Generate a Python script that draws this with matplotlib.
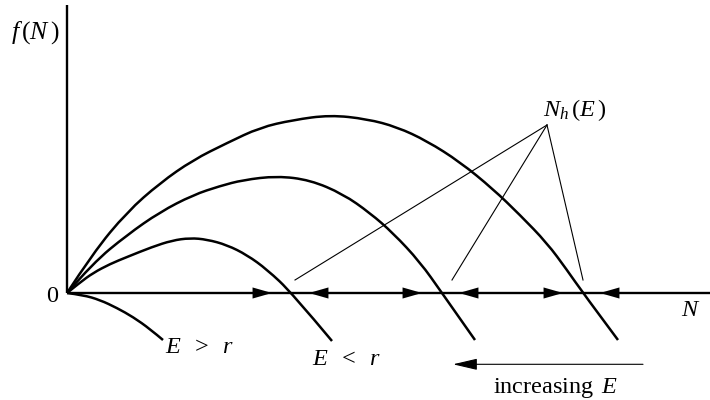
import matplotlib
matplotlib.use("Agg")
import matplotlib.pyplot as plt
from matplotlib.path import Path
from matplotlib.patches import PathPatch

# curves: N along the axis, f(N) up
n_low = [0, 0.13, 0.26, 0.43, 0.60, 0.85, 1.05, 1.23, 1.40, 1.60, 1.80, 2.00, 2.25, 2.65]
f_low = [0, 0.105, 0.20, 0.29, 0.36, 0.46, 0.525, 0.55, 0.535, 0.48, 0.38, 0.235, 0.00, -0.48]

n_mid = [0, 0.26, 0.60, 0.93, 1.26, 1.53, 1.76, 2.10, 2.43, 2.76, 3.03, 3.26, 3.53, 3.75, 4.08]
f_mid = [0, 0.30, 0.58, 0.81, 0.98, 1.07, 1.13, 1.17, 1.13, 0.99, 0.80, 0.60, 0.31, 0.00, -0.47]

n_high = [0, 0.26, 0.60, 0.93, 1.26, 1.60, 1.93, 2.26, 2.63, 3.00, 3.30, 3.60, 3.93,
          4.26, 4.53, 4.80, 5.00, 5.16, 5.51]
f_high = [0, 0.40, 0.81, 1.10, 1.33, 1.50, 1.655, 1.73, 1.78, 1.74, 1.66, 1.52, 1.31,
          1.04, 0.78, 0.50, 0.23, 0.00, -0.47]

n_over = [0, 0.16, 0.33, 0.50, 0.66, 0.83, 0.96]
f_over = [0, -0.02, -0.07, -0.15, -0.24, -0.36, -0.47]

# equilibria N_h(E) and where the pointer lines stop
roots = [2.25, 3.75, 5.16]
pointer_ends = [2.28, 3.85, 5.16]
pointer_apex = (4.80, 1.68)

plt.rcParams['font.family'] = ['Liberation Serif', 'DejaVu Serif']
plt.rcParams['mathtext.fontset'] = 'custom'
plt.rcParams['mathtext.rm'] = 'Liberation Serif'
plt.rcParams['mathtext.it'] = 'Liberation Serif:italic'


def smooth_path(xs, ys):
    # quadratic bezier through the midpoints, read points as control points
    pts = list(zip(xs, ys))
    verts = [pts[0]]
    codes = [Path.MOVETO]
    for i in range(1, len(pts) - 1):
        if i < len(pts) - 2:
            end = ((pts[i][0] + pts[i + 1][0]) / 2, (pts[i][1] + pts[i + 1][1]) / 2)
        else:
            end = pts[-1]
        verts += [pts[i], end]
        codes += [Path.CURVE3, Path.CURVE3]
    return Path(verts, codes)


fig = plt.figure(figsize=(7.1, 4.0), dpi=100)
ax = fig.add_axes([0, 0, 1, 1])
ax.set_xlim(-0.67, 6.43)
ax.set_ylim(-1.07, 2.93)
ax.axis('off')

# axes
ax.plot([0, 0], [0, 2.88], color='black', lw=1.7, solid_capstyle='butt')
ax.plot([0, 6.43], [0, 0], color='black', lw=1.7, solid_capstyle='butt')

for n, f in [(n_low, f_low), (n_mid, f_mid), (n_high, f_high), (n_over, f_over)]:
    ax.add_patch(PathPatch(smooth_path(n, f), facecolor='none', edgecolor='black',
                           lw=1.8, capstyle='butt', joinstyle='round'))

# flow arrows towards each equilibrium
head = dict(arrowstyle='-|>,head_length=14,head_width=4', color='black',
            shrinkA=0, shrinkB=0, mutation_scale=1, lw=0)
for r in roots:
    ax.annotate('', xy=(r - 0.2, 0), xytext=(r - 0.21, 0), arrowprops=head)
    ax.annotate('', xy=(r + 0.17, 0), xytext=(r + 0.18, 0), arrowprops=head)

for x_end in pointer_ends:
    ax.plot([x_end, pointer_apex[0]], [0.13, pointer_apex[1]], color='black', lw=0.8)

# increasing E arrow
ax.annotate('', xy=(3.86, -0.713), xytext=(5.76, -0.713),
            arrowprops=dict(arrowstyle='-|>,head_length=15,head_width=3.5', color='black',
                            shrinkA=0, shrinkB=0, mutation_scale=1, lw=0.8))

fs = 17.5
ax.text(-0.32, 2.60, r'$f\,(N\,)$', fontsize=18.5, ha='center', va='center')
ax.text(-0.15, -0.04, '0', fontsize=fs, ha='center', va='center')
ax.text(6.24, -0.17, r'$N$', fontsize=fs, ha='center', va='center')
ax.text(5.08, 1.83, r'$N_h\,(E\,)$', fontsize=fs, ha='center', va='center')
ax.text(0.98, -0.60, r'$E\ \;>\ \;r$', fontsize=fs, ha='left', va='baseline')
ax.text(2.45, -0.72, r'$E\ \;<\ \;r$', fontsize=fs, ha='left', va='baseline')
ax.text(4.89, -0.997, r'increasing $\,E$', fontsize=fs, ha='center', va='baseline')

fig.savefig('out.png', dpi=100)
